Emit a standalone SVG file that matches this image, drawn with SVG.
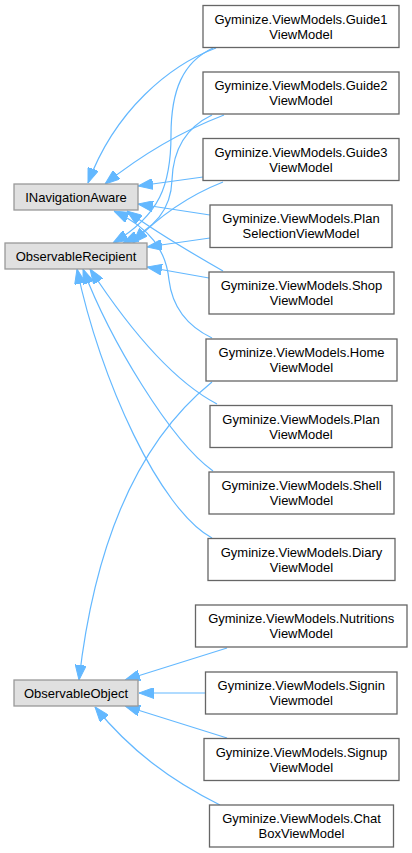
<svg xmlns="http://www.w3.org/2000/svg" width="412" height="853" viewBox="0 0 412 853">
<style>
.n rect{fill:#ffffff;stroke:#666666;stroke-width:1.3}
.b rect{fill:#e0e0e0;stroke:#999999;stroke-width:1.3}
text{font-family:"Liberation Sans",Arial,sans-serif;font-size:13px;fill:#000000;text-anchor:middle}
#edges path{fill:none;stroke:#63b8ff;stroke-width:1.2;marker-end:url(#arr)}
</style>
<defs>
<marker id="arr" viewBox="0 0 15 11" refX="15" refY="5.5" markerWidth="15" markerHeight="11" markerUnits="userSpaceOnUse" orient="auto">
<path d="M0,0 L15,5.5 L0,11 Z" fill="#63b8ff" stroke="#63b8ff" stroke-width="1"/>
</marker>
</defs>
<rect width="412" height="853" fill="#ffffff"/>
<g id="edges">
<path d="M216,48 C170,65 115,110 88,183"/>
<path d="M213,48 C183,62 171,90 171,135 C171,185 160,215 113,243"/>
<path d="M224,115 C185,130 145,152 105,184"/>
<path d="M212,115 C185,128 173,150 172,180 C171,210 155,228 123,243"/>
<path d="M203,177 L138,186"/>
<path d="M223,182 C190,195 160,215 133,243"/>
<path d="M210,215 L138,204"/>
<path d="M210,238 L147,247"/>
<path d="M209,278 L147,267"/>
<path d="M223,271 C195,255 160,235 127,211"/>
<path d="M212,338 C185,325 172,305 169,280 C166,250 150,228 114,211"/>
<path d="M217,404 C175,382 130,330 90,269"/>
<path d="M213,471 C170,440 110,340 83,269"/>
<path d="M212,538 C160,510 100,380 77,269"/>
<path d="M212,382 C140,440 95,540 79,680"/>
<path d="M227,648 L125,680"/>
<path d="M205,693 L139,693"/>
<path d="M227,738 L125,706"/>
<path d="M220,805 C170,780 130,750 95,707"/>
</g>
<g id="INavigationAware" class="b"><rect x="14" y="184" width="124" height="26"/><text x="76" y="201.5">INavigationAware</text></g>
<g id="ObservableRecipient" class="b"><rect x="5" y="243" width="142" height="26"/><text x="76" y="260.5">ObservableRecipient</text></g>
<g id="ObservableObject" class="b"><rect x="14" y="680" width="124" height="26"/><text x="76" y="697.5">ObservableObject</text></g>
<g id="Guide1ViewModel" class="n"><rect x="203" y="5.5" width="196" height="42"/><text x="301" y="23.5">Gyminize.ViewModels.Guide1</text><text x="301" y="38.5">ViewModel</text></g>
<g id="Guide2ViewModel" class="n"><rect x="203" y="72" width="196" height="42"/><text x="301" y="90">Gyminize.ViewModels.Guide2</text><text x="301" y="105">ViewModel</text></g>
<g id="Guide3ViewModel" class="n"><rect x="203" y="138.5" width="196" height="42"/><text x="301" y="156.5">Gyminize.ViewModels.Guide3</text><text x="301" y="171.5">ViewModel</text></g>
<g id="PlanSelectionViewModel" class="n"><rect x="210" y="205" width="182" height="42.5"/><text x="301" y="223">Gyminize.ViewModels.Plan</text><text x="301" y="238">SelectionViewModel</text></g>
<g id="ShopViewModel" class="n"><rect x="209" y="272" width="185" height="42"/><text x="301.5" y="290">Gyminize.ViewModels.Shop</text><text x="301.5" y="305">ViewModel</text></g>
<g id="HomeViewModel" class="n"><rect x="206" y="339" width="191" height="42"/><text x="301.5" y="357">Gyminize.ViewModels.Home</text><text x="301.5" y="372">ViewModel</text></g>
<g id="PlanViewModel" class="n"><rect x="210" y="405.5" width="182" height="42"/><text x="301" y="423.5">Gyminize.ViewModels.Plan</text><text x="301" y="438.5">ViewModel</text></g>
<g id="ShellViewModel" class="n"><rect x="209" y="472" width="185" height="42"/><text x="301.5" y="490">Gyminize.ViewModels.Shell</text><text x="301.5" y="505">ViewModel</text></g>
<g id="DiaryViewModel" class="n"><rect x="208" y="538.5" width="187" height="42"/><text x="301.5" y="556.5">Gyminize.ViewModels.Diary</text><text x="301.5" y="571.5">ViewModel</text></g>
<g id="NutritionsViewModel" class="n"><rect x="195.5" y="605" width="211.5" height="42"/><text x="301.25" y="623">Gyminize.ViewModels.Nutritions</text><text x="301.25" y="638">ViewModel</text></g>
<g id="SigninViewmodel" class="n"><rect x="205.5" y="672" width="191.5" height="42"/><text x="301.25" y="690">Gyminize.ViewModels.Signin</text><text x="301.25" y="705">Viewmodel</text></g>
<g id="SignupViewModel" class="n"><rect x="204" y="738.5" width="195" height="42"/><text x="301.5" y="756.5">Gyminize.ViewModels.Signup</text><text x="301.5" y="771.5">ViewModel</text></g>
<g id="ChatBoxViewModel" class="n"><rect x="209.5" y="805" width="184" height="42"/><text x="301.5" y="823">Gyminize.ViewModels.Chat</text><text x="301.5" y="838">BoxViewModel</text></g>
</svg>
